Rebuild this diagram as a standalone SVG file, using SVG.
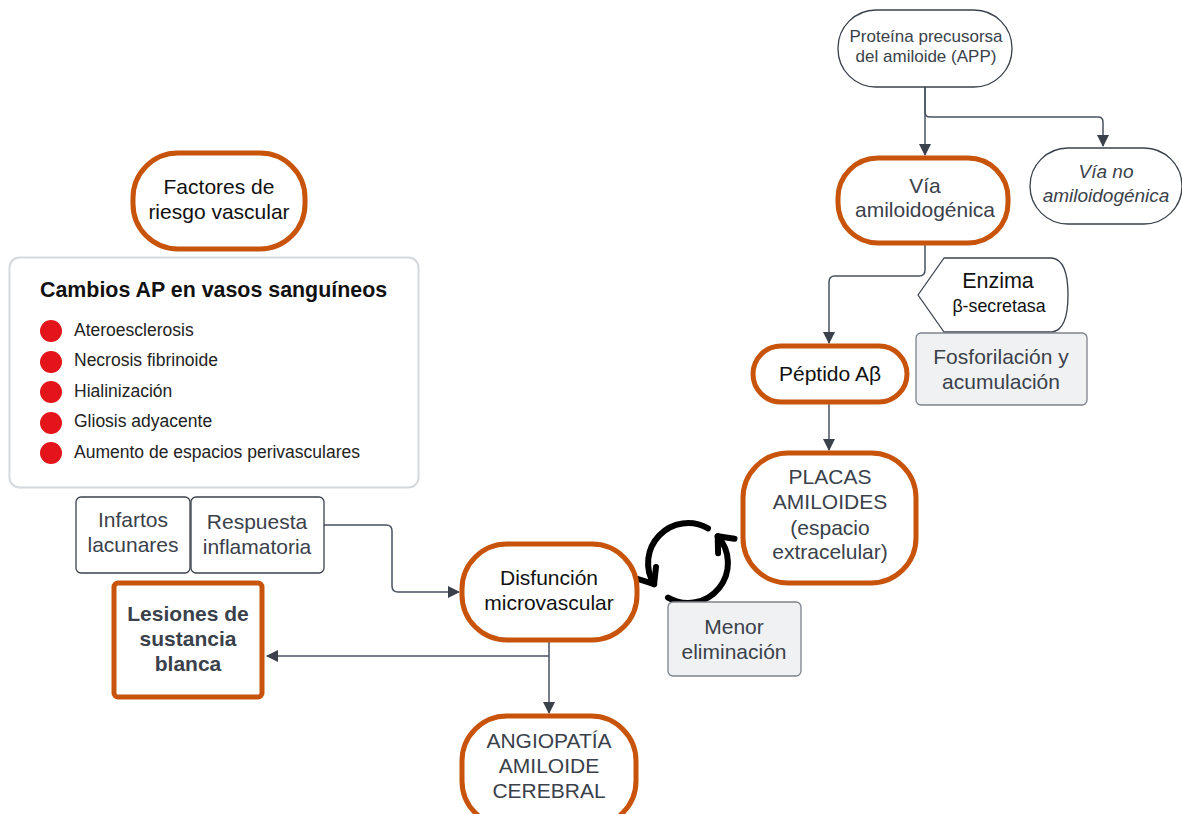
<svg xmlns="http://www.w3.org/2000/svg" width="1182" height="814" viewBox="0 0 1182 814">
<defs>
<marker id="ah" markerWidth="12" markerHeight="12" viewBox="0 0 12 12" refX="11" refY="6" orient="auto" markerUnits="userSpaceOnUse">
<path d="M0,0 L12,6 L0,12 Z" fill="#3a414a"/>
</marker>
<style>
.t{font-family:"Liberation Sans",Arial,sans-serif;fill:#3a414a;text-anchor:middle}
.k{fill:#111}
.or{fill:#fff;stroke:#c8530b;stroke-width:5}
.th{fill:#fff;stroke:#3a414a;stroke-width:1.3}
.gr{fill:#f0f1f3;stroke:#7d838c;stroke-width:1.3}
.c{fill:none;stroke:#4a5260;stroke-width:1.5}
.cy{fill:none;stroke:#000;stroke-width:6;stroke-linecap:round;stroke-linejoin:round}
.b{font-family:"Liberation Sans",Arial,sans-serif;fill:#222;font-size:17.5px}
</style>
</defs>
<rect width="1182" height="814" fill="#fff"/>

<g id="connectors">
<path class="c" d="M925,87 V155" marker-end="url(#ah)"/>
<path class="c" d="M925,87 V112 Q925,117 930,117 H1098 Q1103,117 1103,122 V146" marker-end="url(#ah)"/>
<path class="c" d="M925,243 V270 Q925,276 919,276 H835 Q829,276 829,282 V343" marker-end="url(#ah)"/>
<path class="c" d="M829,402 V450" marker-end="url(#ah)"/>
<path class="c" d="M324,525 H386 Q392,525 392,531 V586 Q392,592 398,592 H459" marker-end="url(#ah)"/>
<path class="c" d="M549,640 V713" marker-end="url(#ah)"/>
<path class="c" d="M549,656 H267" marker-end="url(#ah)"/>
</g>

<g id="app">
<rect class="th" x="838" y="10" width="174" height="77" rx="38"/>
<text class="t" font-size="17"><tspan x="926" y="42">Proteína precusorsa</tspan><tspan x="926" y="62">del amiloide (APP)</tspan></text>
</g>

<g id="via-amiloidogenica">
<rect class="or" x="838" y="158" width="170" height="85" rx="40"/>
<text class="t" font-size="21"><tspan x="925" y="193">Vía</tspan><tspan x="925" y="217">amiloidogénica</tspan></text>
</g>

<g id="via-no">
<rect class="th" x="1030" y="148" width="152" height="76" rx="38"/>
<text class="t" font-size="19" font-style="italic"><tspan x="1106" y="178">Vía no</tspan><tspan x="1106" y="202">amiloidogénica</tspan></text>
</g>

<g id="enzima">
<path d="M944,258 L1052,258 Q1068,260 1068,295 Q1068,330 1052,332 L944,332 L918,295 Z" fill="#fff" stroke="#3a414a" stroke-width="1.3" stroke-linejoin="round"/>
<text class="t k" font-size="21.5"><tspan x="998" y="288">Enzima</tspan></text>
<text class="t k" font-size="17.8"><tspan x="999" y="312">β-secretasa</tspan></text>
</g>

<g id="fosforilacion">
<rect class="gr" x="916" y="333" width="171" height="72" rx="5"/>
<text class="t" font-size="21"><tspan x="1001" y="364">Fosforilación y</tspan><tspan x="1001" y="389">acumulación</tspan></text>
</g>

<g id="peptido">
<rect class="or" x="753" y="346" width="154" height="56" rx="28"/>
<text class="t k" font-size="21"><tspan x="830" y="381">Péptido Aβ</tspan></text>
</g>

<g id="placas">
<rect class="or" x="743" y="453" width="173" height="130" rx="45"/>
<text class="t" font-size="21"><tspan x="830" y="484">PLACAS</tspan><tspan x="830" y="509">AMILOIDES</tspan><tspan x="830" y="535">(espacio</tspan><tspan x="830" y="559">extracelular)</tspan></text>
</g>

<g id="ciclo">
<path class="cy" d="M708,528.4 A40,40 0 0 0 654.1,584.2"/>
<polyline class="cy" points="656,567 654.1,584.2 638,579"/>
<path class="cy" d="M668,597.6 A40,40 0 0 0 717.7,536.2"/>
<polyline class="cy" points="734.5,538.8 717.7,536.2 718.1,553.2"/>
</g>

<g id="menor">
<rect class="gr" x="668" y="602" width="133" height="74" rx="5"/>
<text class="t" font-size="21"><tspan x="734" y="634">Menor</tspan><tspan x="734" y="659">eliminación</tspan></text>
</g>

<g id="disfuncion">
<rect class="or" x="462" y="544" width="175" height="96" rx="45"/>
<text class="t k" font-size="21"><tspan x="549" y="585">Disfunción</tspan><tspan x="549" y="610">microvascular</tspan></text>
</g>

<g id="angiopatia">
<rect class="or" x="462" y="716" width="174" height="110" rx="45"/>
<text class="t" font-size="21"><tspan x="549" y="748">ANGIOPATÍA</tspan><tspan x="549" y="773">AMILOIDE</tspan><tspan x="549" y="798">CEREBRAL</tspan></text>
</g>

<g id="factores">
<rect class="or" x="133" y="153" width="172" height="96" rx="45"/>
<text class="t k" font-size="21"><tspan x="219" y="194">Factores de</tspan><tspan x="219" y="219">riesgo vascular</tspan></text>
</g>

<g id="cambios">
<rect x="9.5" y="257.5" width="409" height="230" rx="10" fill="#fff" stroke="#d5d8dc" stroke-width="2"/>
<text x="40" y="297" font-family="'Liberation Sans',Arial,sans-serif" font-size="21.4" font-weight="bold" fill="#111">Cambios AP en vasos sanguíneos</text>
<g fill="#e3151a">
<circle cx="51" cy="331" r="11"/>
<circle cx="51" cy="362" r="11"/>
<circle cx="51" cy="392" r="11"/>
<circle cx="51" cy="423" r="11"/>
<circle cx="51" cy="453" r="11"/>
</g>
<text class="b" x="74" y="336">Ateroesclerosis</text>
<text class="b" x="74" y="366">Necrosis fibrinoide</text>
<text class="b" x="74" y="397">Hialinización</text>
<text class="b" x="74" y="427">Gliosis adyacente</text>
<text class="b" x="74" y="458">Aumento de espacios perivasculares</text>
</g>

<g id="infartos">
<rect class="th" x="76" y="497" width="114" height="76" rx="5" stroke="#555"/>
<text class="t" font-size="21"><tspan x="133" y="527">Infartos</tspan><tspan x="133" y="552">lacunares</tspan></text>
</g>

<g id="respuesta">
<rect class="th" x="191" y="497" width="133" height="76" rx="5" stroke="#555"/>
<text class="t" font-size="21"><tspan x="257" y="529">Respuesta</tspan><tspan x="257" y="554">inflamatoria</tspan></text>
</g>

<g id="lesiones">
<rect class="or" x="114" y="583" width="148" height="114" rx="4"/>
<text class="t" font-size="21" font-weight="bold"><tspan x="188" y="621">Lesiones de</tspan><tspan x="188" y="646">sustancia</tspan><tspan x="188" y="671">blanca</tspan></text>
</g>
</svg>
